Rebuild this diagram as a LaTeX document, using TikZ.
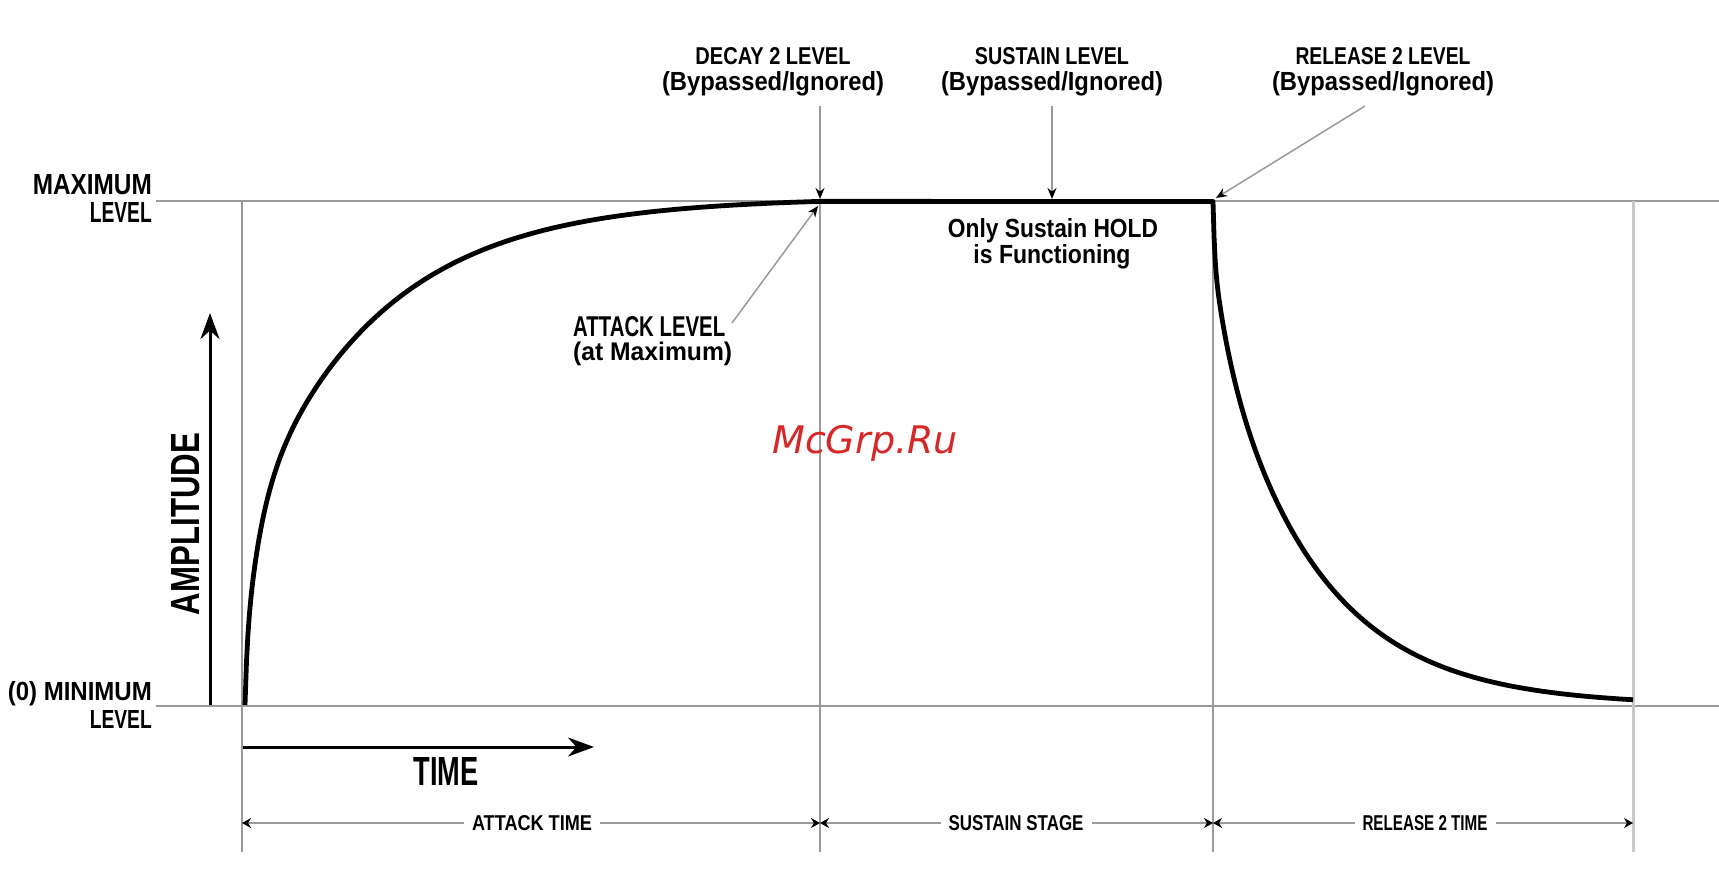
\documentclass[tikz,border=0pt]{standalone}
\usepackage{fontspec}
\usepackage{graphicx}
\setmainfont{Liberation Sans}
\newfontfamily\wmfont{DejaVu Sans}
\usetikzlibrary{arrows.meta}
\definecolor{gl}{HTML}{9A9A9A}
\definecolor{gll}{HTML}{C8C8C8}
\definecolor{wmred}{RGB}{215,40,40}
\newcommand\fitt[3]{\resizebox{#1pt}{#2pt}{\bfseries #3}}
\tikzset{
  guide/.style={draw=gl, line width=2.5pt},
  env/.style={draw=black, line width=4.8pt, line join=round},
  lbl/.style={inner sep=0pt, anchor=base},
  pointer/.style={draw=gl, line width=1.5pt, -{Stealth[color=black,length=11pt,width=9pt]}},
  dimline/.style={draw=gl, line width=2.5pt, {Stealth[color=black,length=9pt,width=10pt]}-{Stealth[color=black,length=9pt,width=10pt]}},
  dimlbl/.style={fill=white, inner xsep=8pt, inner ysep=3pt, anchor=center},
  axisarrow/.style={draw=black, line width=3pt, -{Stealth[length=26pt,width=19pt]}}
}
\begin{document}
\begin{tikzpicture}[x=1pt,y=-1pt]
\useasboundingbox[fill=white] (0,0) rectangle (1719,877);
% guide lines
\coordinate (maxL) at (156,201); \coordinate (maxR) at (1719,201);
\coordinate (minL) at (156,706); \coordinate (minR) at (1719,706);
\draw[guide] (maxL) -- (maxR);
\draw[guide] (minL) -- (minR);
\coordinate (vat) at (242,201); \coordinate (vab) at (242,852);
\coordinate (vbt) at (820,201); \coordinate (vbb) at (820,852);
\coordinate (vct) at (1213,201); \coordinate (vcb) at (1213,852);
\coordinate (vdt) at (1633,201); \coordinate (vdb) at (1633,852);
\draw[guide] (vat) -- (vab);
\draw[guide] (vbt) -- (vbb);
\draw[guide] (vct) -- (vcb);
\draw[guide, draw=gll, line width=3pt] (vdt) -- (vdb);
% envelope
\draw[env] plot[domain=0:575, samples=400, variable=\u]
    ({245+\u}, {705 - 1.005*(50*(1-exp(-\u/2)) + 130*(1-exp(-\u/14)) + 325*(1-exp(-\u/130)))})
  -- plot[domain=0:420, samples=400, variable=\u]
    ({1213+\u}, {201.5 + 1.01*(54*(1-exp(-\u/1.5)) + 65*(1-exp(-\u/15)) + 380*(1-exp(-\u/100)))});
% level labels
\node[lbl, anchor=base east] (maxA) at (152,195) {\fitt{119}{20}{MAXIMUM}};
\node[lbl, anchor=base east] (maxB) at (152,223) {\fitt{62}{20}{LEVEL}};
\node[lbl, anchor=base east] (minA) at (152,700) {\fitt{144}{19}{(0) MINIMUM}};
\node[lbl, anchor=base east] (minB) at (152,728) {\fitt{62}{18}{LEVEL}};
% top labels
\node[lbl] (dec1) at (773,65) {\fitt{155}{17}{DECAY 2 LEVEL}};
\node[lbl] (dec2) at (773,91) {\fitt{222}{19}{(Bypassed/Ignored)}};
\node[lbl] (sus1) at (1052,65) {\fitt{154}{17}{SUSTAIN LEVEL}};
\node[lbl] (sus2) at (1052,91) {\fitt{222}{19}{(Bypassed/Ignored)}};
\node[lbl] (rel1) at (1383,65) {\fitt{175}{17}{RELEASE 2 LEVEL}};
\node[lbl] (rel2) at (1383,91) {\fitt{222}{19}{(Bypassed/Ignored)}};
\node[lbl, anchor=base west] (att1) at (573,336) {\fitt{152}{20}{ATTACK LEVEL}};
\node[lbl, anchor=base west] (att2) at (573,361) {\fitt{159}{18.5}{(at Maximum)}};
\node[lbl] (hold1) at (1053,238) {\fitt{210}{19}{Only Sustain HOLD}};
\node[lbl] (hold2) at (1052,264) {\fitt{157}{19}{is Functioning}};
% pointers
\coordinate (decTip) at (820,199);
\coordinate (susTip) at (1052,199);
\coordinate (relTail) at (1365,106); \coordinate (relTip) at (1216,198);
\coordinate (attTail) at (732,323); \coordinate (attTip) at (818,206);
\draw[pointer, shorten <=9pt] (dec2.south -| decTip) -- (decTip);
\draw[pointer, shorten <=9pt] (sus2.south -| susTip) -- (susTip);
\draw[pointer] (relTail) -- (relTip);
\draw[pointer] (attTail) -- (attTip);
% axes
\coordinate (ampS) at (210,705); \coordinate (ampE) at (210,313);
\draw[axisarrow] (ampS) -- (ampE);
\node[inner sep=0pt, rotate=90] (amp) at (186,524) {\fitt{182}{28}{AMPLITUDE}};
\coordinate (timeS) at (243,747); \coordinate (timeE) at (594,747);
\draw[axisarrow] (timeS) -- (timeE);
\node[inner sep=0pt] (time) at (446,771) {\fitt{65}{28}{TIME}};
% dimension lines
\coordinate (d0) at (242,823); \coordinate (d1) at (820,823);
\coordinate (d2) at (1213,823); \coordinate (d3) at (1633,823);
\draw[dimline] (d0) -- (d1);
\draw[dimline] (d1) -- (d2);
\draw[dimline] (d2) -- (d3);
\node[dimlbl] (atkT) at (532,823) {\fitt{120}{15}{ATTACK TIME}};
\node[dimlbl] (susT) at (1016,823) {\fitt{135}{15}{SUSTAIN STAGE}};
\node[dimlbl] (relT) at (1425,823) {\fitt{125}{15}{RELEASE 2 TIME}};
% watermark
\node[inner sep=0pt, anchor=base, text=wmred] (wm) at (865,453) {\fontsize{38}{38}\selectfont\wmfont\itshape McGrp.Ru};
\end{tikzpicture}
\end{document}
